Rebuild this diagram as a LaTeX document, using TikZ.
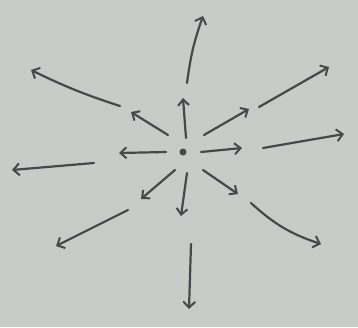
\documentclass[tikz,border=0pt]{standalone}
\usetikzlibrary{arrows.meta}
\definecolor{paper}{RGB}{201,203,201}
\definecolor{pencil}{RGB}{72,72,76}
\tikzset{
  % radiating flow sketch
  srcdot/.style   = { circle, fill=pencil, minimum size=7pt, inner sep=0 },
  innerflow/.style= { pencil, line width=2.2pt, line cap=round,
                      -{Straight Barb[length=6pt, width=11pt, line width=2pt]} },
  outerflow/.style= { pencil, line width=2.2pt, line cap=round,
                      -{Straight Barb[length=6pt, width=12pt, line width=2pt]} }
}

\begin{document}
\begin{tikzpicture}[x=1pt, y=-1pt]

  \fill[paper] (0,0) rectangle (358,327);
  \useasboundingbox (0,0) rectangle (358,327);

  \node[srcdot] (src) at (183,152) {};

  % inner ring
  \coordinate (iN) at (183,98);
  \coordinate (iNW) at (131,112);
  \coordinate (iW) at (119,153);
  \coordinate (iSW) at (141,199);
  \coordinate (iS) at (181,216);
  \coordinate (iSE) at (238,194);
  \coordinate (iE) at (242,148);
  \coordinate (iNE) at (249,109);

  \draw[innerflow] ([shift={(3pt,14pt)}]src.center) -- (iN);
  \draw[innerflow] ([shift={(-15pt,17pt)}]src.center) -- (iNW);
  \draw[innerflow] ([xshift=-17pt]src.center) -- (iW);
  \draw[innerflow] ([shift={(-8pt,-18pt)}]src.center) -- (iSW);
  \draw[innerflow] ([shift={(4pt,-21pt)}]src.center) -- (iS);
  \draw[innerflow] ([shift={(20pt,-18pt)}]src.center) -- (iSE);
  \draw[innerflow] ([xshift=18pt]src.center) -- (iE);
  \draw[innerflow] ([shift={(21pt,17pt)}]src.center) -- (iNE);

  % outer ring
  \coordinate (oN0) at (187,83);   \coordinate (oN) at (203,16);
  \coordinate (oNW0) at (120,106); \coordinate (oNW) at (31,70);
  \coordinate (oW0) at (94,163);   \coordinate (oW) at (12,170);
  \coordinate (oSW0) at (128,210); \coordinate (oSW) at (56,246);
  \coordinate (oS0) at (191,244);  \coordinate (oS) at (189,309);
  \coordinate (oSE0) at (251,203); \coordinate (oSE) at (321,244);
  \coordinate (oE0) at (263,148);  \coordinate (oE) at (344,134);
  \coordinate (oNE0) at (259,107); \coordinate (oNE) at (329,67);

  \draw[outerflow] (oN0) to[bend left=6] (oN);
  \draw[outerflow] (oNW0) to[bend left=4] (oNW);
  \draw[outerflow] (oW0) -- (oW);
  \draw[outerflow] (oSW0) -- (oSW);
  \draw[outerflow] (oS0) -- (oS);
  \draw[outerflow] (oSE0) to[bend right=12] (oSE);
  \draw[outerflow] (oE0) -- (oE);
  \draw[outerflow] (oNE0) -- (oNE);

\end{tikzpicture}
\end{document}
